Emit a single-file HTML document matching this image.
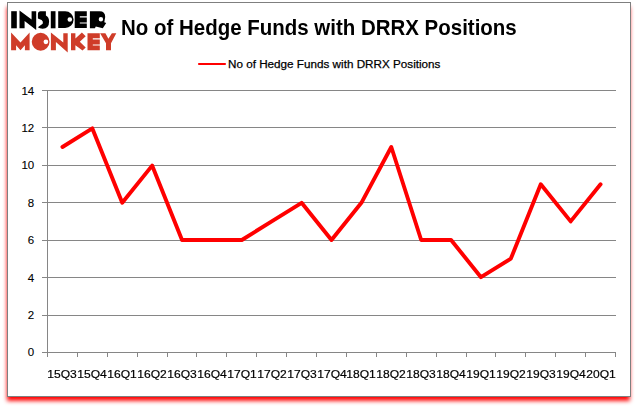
<!DOCTYPE html>
<html><head><meta charset="utf-8"><style>
html,body{margin:0;padding:0;background:#fff;width:637px;height:408px;overflow:hidden;position:relative;font-family:"Liberation Sans",sans-serif;}
#box{position:absolute;left:7px;top:2px;width:624px;height:395px;box-sizing:border-box;border:1px solid #7f7f7f;background:#fff;}
svg{position:absolute;left:0;top:0;}
.title{position:absolute;left:121px;top:18px;font-size:21.5px;line-height:1;font-weight:bold;color:#000;white-space:nowrap;transform-origin:0 0;transform:scaleX(0.952);}
.legend{position:absolute;left:228px;top:58px;font-size:11.7px;line-height:1;color:#000;white-space:nowrap;-webkit-text-stroke:0.25px #000;}
.yl{position:absolute;left:0;width:34.2px;text-align:right;font-size:11.5px;line-height:1;color:#000;-webkit-text-stroke:0.1px #000;}
.xl{position:absolute;top:369px;width:40px;text-align:center;font-size:11.5px;line-height:1;color:#000;white-space:nowrap;transform:scaleX(1.05);-webkit-text-stroke:0.2px #000;}
</style></head><body>
<svg width="637" height="408" style="position:absolute;left:0;top:0"><defs><filter id="b" x="-5%" y="-5%" width="110%" height="110%"><feGaussianBlur stdDeviation="2"/></filter></defs><rect x="7" y="7" width="622.8" height="393.8" fill="#ff0000" filter="url(#b)"/></svg><div id="box"></div>
<svg width="637" height="408" viewBox="0 0 637 408">
<g stroke="#868686" stroke-width="1" shape-rendering="crispEdges"><line x1="42" y1="90.5" x2="615.5" y2="90.5"/><line x1="42" y1="127.5" x2="615.5" y2="127.5"/><line x1="42" y1="165.5" x2="615.5" y2="165.5"/><line x1="42" y1="202.5" x2="615.5" y2="202.5"/><line x1="42" y1="240.5" x2="615.5" y2="240.5"/><line x1="42" y1="277.5" x2="615.5" y2="277.5"/><line x1="42" y1="315.5" x2="615.5" y2="315.5"/><line x1="42" y1="352.5" x2="615.5" y2="352.5"/>
<line x1="47.5" y1="90" x2="47.5" y2="352"/><line x1="47.5" y1="352" x2="47.5" y2="357"/><line x1="77.5" y1="352" x2="77.5" y2="357"/><line x1="107.5" y1="352" x2="107.5" y2="357"/><line x1="137.5" y1="352" x2="137.5" y2="357"/><line x1="167.5" y1="352" x2="167.5" y2="357"/><line x1="196.5" y1="352" x2="196.5" y2="357"/><line x1="226.5" y1="352" x2="226.5" y2="357"/><line x1="256.5" y1="352" x2="256.5" y2="357"/><line x1="286.5" y1="352" x2="286.5" y2="357"/><line x1="316.5" y1="352" x2="316.5" y2="357"/><line x1="346.5" y1="352" x2="346.5" y2="357"/><line x1="376.5" y1="352" x2="376.5" y2="357"/><line x1="406.5" y1="352" x2="406.5" y2="357"/><line x1="436.5" y1="352" x2="436.5" y2="357"/><line x1="466.5" y1="352" x2="466.5" y2="357"/><line x1="495.5" y1="352" x2="495.5" y2="357"/><line x1="525.5" y1="352" x2="525.5" y2="357"/><line x1="555.5" y1="352" x2="555.5" y2="357"/><line x1="585.5" y1="352" x2="585.5" y2="357"/><line x1="615.5" y1="352" x2="615.5" y2="357"/></g>
<polyline fill="none" stroke="#ff0000" stroke-width="3.9" stroke-linejoin="round" stroke-linecap="round" points="62.45,147.00 92.34,128.40 122.24,202.80 152.13,165.60 182.03,240.00 211.92,240.00 241.82,240.00 271.71,221.40 301.61,202.80 331.50,240.00 361.39,202.80 391.29,147.00 421.18,240.00 451.08,240.00 480.97,277.20 510.87,258.60 540.76,184.20 570.66,221.40 600.55,184.20"/>
<line x1="199" y1="64" x2="225" y2="64" stroke="#ff0000" stroke-width="2.1" stroke-linecap="round"/>
<g fill="#000">
<rect x="11.2" y="11.2" width="5.6" height="17.1"/>
<polygon points="19.5,10.4 31.6,19.6 31.6,11.2 36.2,11.2 36.2,30 24.6,21 24.6,28.3 19.5,28.3"/>
<path d="M40.6,11.3 L45.9,11.3 L45.9,15.5 Q49.1,17.2 49.1,21.6 Q49.1,28.7 42.6,28.7 Q39.6,28.7 37.8,27.3 L42.7,23.8 Q43.6,21.2 41.6,19.9 L37.9,18.4 L37.9,14.2 Q37.9,11.3 40.6,11.3 Z"/>
<rect x="50.8" y="11.2" width="4.7" height="17.1"/>
<path d="M58.2,11.2 L65.2,11.2 A8.4,8.4 0 0 1 65.2,28 L58.2,28 Z M72.1,19.5 A2.3,2.3 0 1 0 67.5,19.5 A2.3,2.3 0 1 0 72.1,19.5 Z" fill-rule="evenodd"/>
<path d="M74.7,11.2 L86.8,11.2 L86.8,28.1 L74.7,28.1 Z M79.8,16.2 L86.8,16.2 L86.8,17.4 L79.8,17.4 Z M79.8,22.4 L86.8,22.4 L86.8,23.5 L79.8,23.5 Z" fill-rule="evenodd"/>
<path d="M89.9,11.2 L99.6,11.2 Q105.2,11.2 105.2,17 L104.3,22.2 L106.2,23 L102.8,28.2 L95.8,26.6 L94.9,28.2 L89.9,28.2 Z M103.1,19.2 A2.2,2.2 0 1 0 98.7,19.2 A2.2,2.2 0 1 0 103.1,19.2 Z" fill-rule="evenodd"/>
</g>
<g fill="#cf3c29">
<polygon points="11.1,32.4 20.5,42.6 29.6,32.4 29.6,50.3 24.9,50.3 24.9,45.3 20.5,50.3 16.1,45.3 16.1,50.3 11.1,50.3"/>
<path d="M49.55,41.75 A8.9,8.9 0 1 0 31.75,41.75 A8.9,8.9 0 1 0 49.55,41.75 Z M48.25,41.8 A2.35,2.35 0 1 0 43.55,41.8 A2.35,2.35 0 1 0 48.25,41.8 Z" fill-rule="evenodd"/>
<polygon points="50.9,32.4 63.3,42.6 63.3,33.2 67.7,33.2 67.7,52.4 55.9,42 55.9,50.3 50.9,50.3"/>
<polygon points="71,33.2 75.4,33.2 75.4,38.6 81.9,32.6 85.7,36.2 79.8,41.8 85.7,47.4 82.5,50.6 75.4,45.2 75.4,50.3 71,50.3"/>
<path d="M87.5,33.2 L99.8,33.2 L99.8,50.3 L87.5,50.3 Z M92.8,38.2 L99.8,38.2 L99.8,39.4 L92.8,39.4 Z M92.8,44.4 L99.8,44.4 L99.8,45.6 L92.8,45.6 Z" fill-rule="evenodd"/>
<polygon points="100.1,33.2 105.4,33.2 108.4,38.8 111.9,33.2 116.3,33.2 111,43.2 111,50.3 106,50.3 106,43.2"/>
</g>

</svg>
<div class="title">No of Hedge Funds with DRRX Positions</div>
<div class="legend">No of Hedge Funds with DRRX Positions</div>
<div class="yl" style="top:85.5px">14</div><div class="yl" style="top:122.9px">12</div><div class="yl" style="top:160.4px">10</div><div class="yl" style="top:197.8px">8</div><div class="yl" style="top:235.2px">6</div><div class="yl" style="top:272.6px">4</div><div class="yl" style="top:310.1px">2</div><div class="yl" style="top:346.7px">0</div>
<div class="xl" style="left:42.45px">15Q3</div><div class="xl" style="left:72.34px">15Q4</div><div class="xl" style="left:102.24px">16Q1</div><div class="xl" style="left:132.13px">16Q2</div><div class="xl" style="left:162.03px">16Q3</div><div class="xl" style="left:191.92px">16Q4</div><div class="xl" style="left:221.82px">17Q1</div><div class="xl" style="left:251.71px">17Q2</div><div class="xl" style="left:281.61px">17Q3</div><div class="xl" style="left:311.50px">17Q4</div><div class="xl" style="left:341.39px">18Q1</div><div class="xl" style="left:371.29px">18Q2</div><div class="xl" style="left:401.18px">18Q3</div><div class="xl" style="left:431.08px">18Q4</div><div class="xl" style="left:460.97px">19Q1</div><div class="xl" style="left:490.87px">19Q2</div><div class="xl" style="left:520.76px">19Q3</div><div class="xl" style="left:550.66px">19Q4</div><div class="xl" style="left:580.55px">20Q1</div>
</body></html>
